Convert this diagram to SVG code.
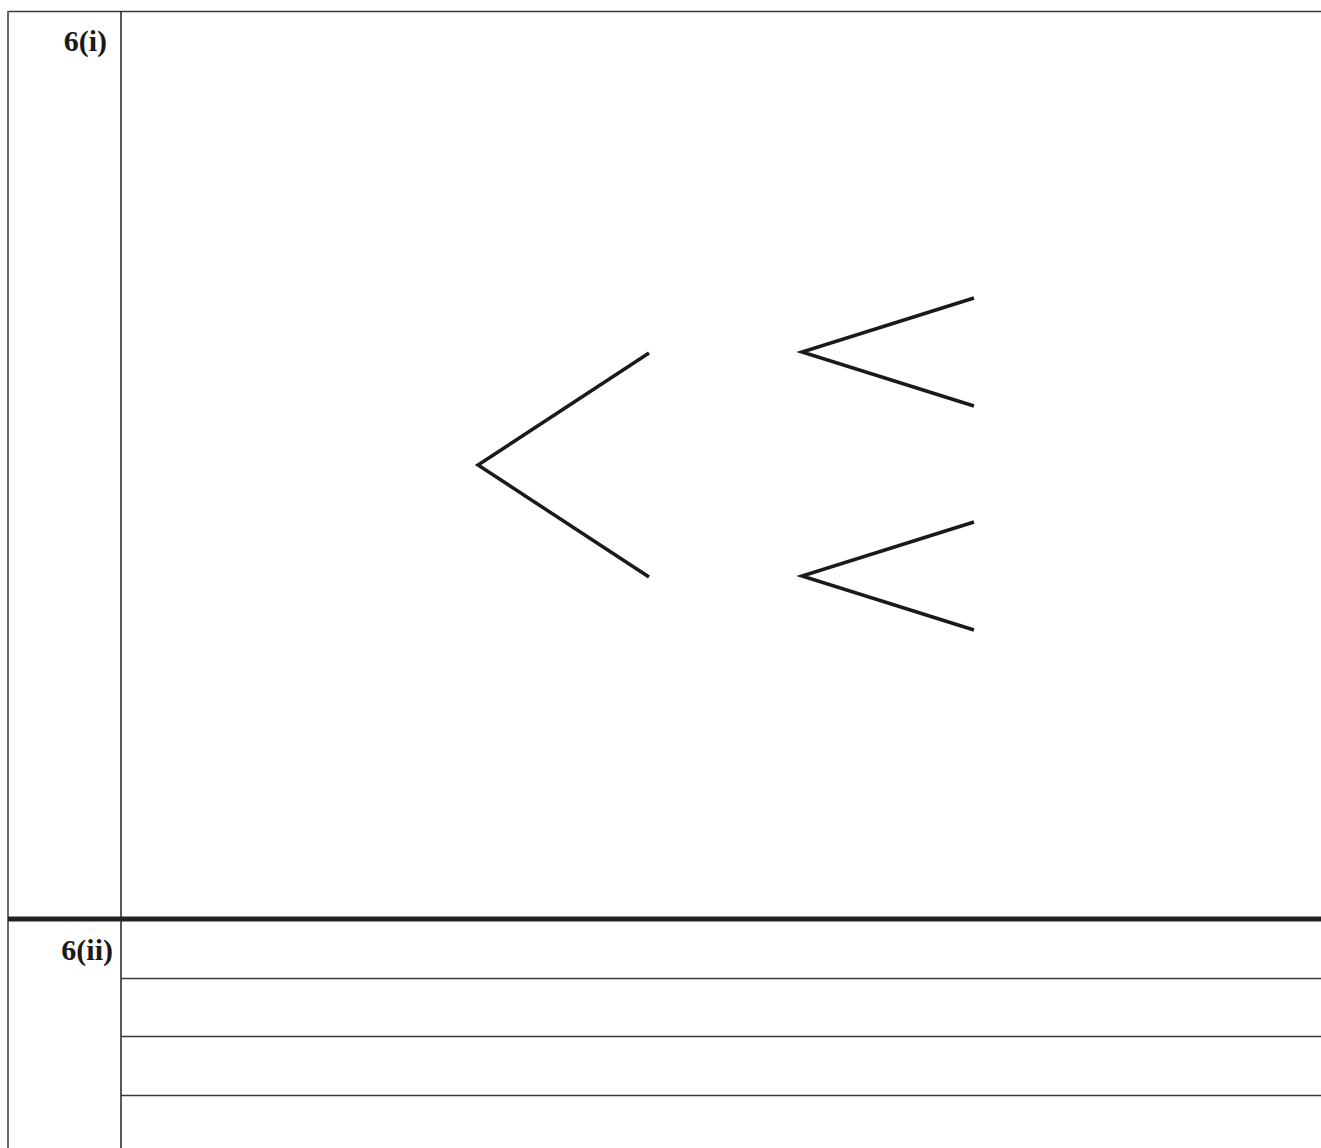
<svg xmlns="http://www.w3.org/2000/svg" width="1321" height="1148" viewBox="0 0 1321 1148">
<style>
.rule{stroke:#3a3a3a;stroke-width:1.5;fill:none}
.branch{stroke:#1a1a1a;stroke-width:3.5;fill:none;stroke-linejoin:miter}
.lbl{font-family:"Liberation Serif","Times New Roman",serif;font-weight:bold;font-size:30px;fill:#1a1a1a;text-anchor:end}
</style>
<rect width="1321" height="1148" fill="#ffffff"/>
<g id="table">
<line class="rule" x1="8" y1="11.5" x2="1321" y2="11.5"/>
<line class="rule" x1="8" y1="11" x2="8" y2="1148" style="stroke:#666;stroke-width:2"/>
<line class="rule" x1="121" y1="11" x2="121" y2="1148" style="stroke:#222"/>
<rect x="8" y="916.5" width="1313" height="5" fill="#222"/>
<line class="rule" x1="121" y1="978.5" x2="1321" y2="978.5"/>
<line class="rule" x1="121" y1="1036.5" x2="1321" y2="1036.5"/>
<line class="rule" x1="121" y1="1095.5" x2="1321" y2="1095.5"/>
</g>
<g id="label-6i"><text class="lbl" x="107" y="51">6(i)</text></g>
<g id="label-6ii"><text class="lbl" x="113" y="960">6(ii)</text></g>
<g id="connectors">
<polyline class="branch" points="649,353 478,465 649,577"/>
<polyline class="branch" points="974,298 802,352 974,406"/>
<polyline class="branch" points="974,522 802,576 974,630"/>
</g>
</svg>
